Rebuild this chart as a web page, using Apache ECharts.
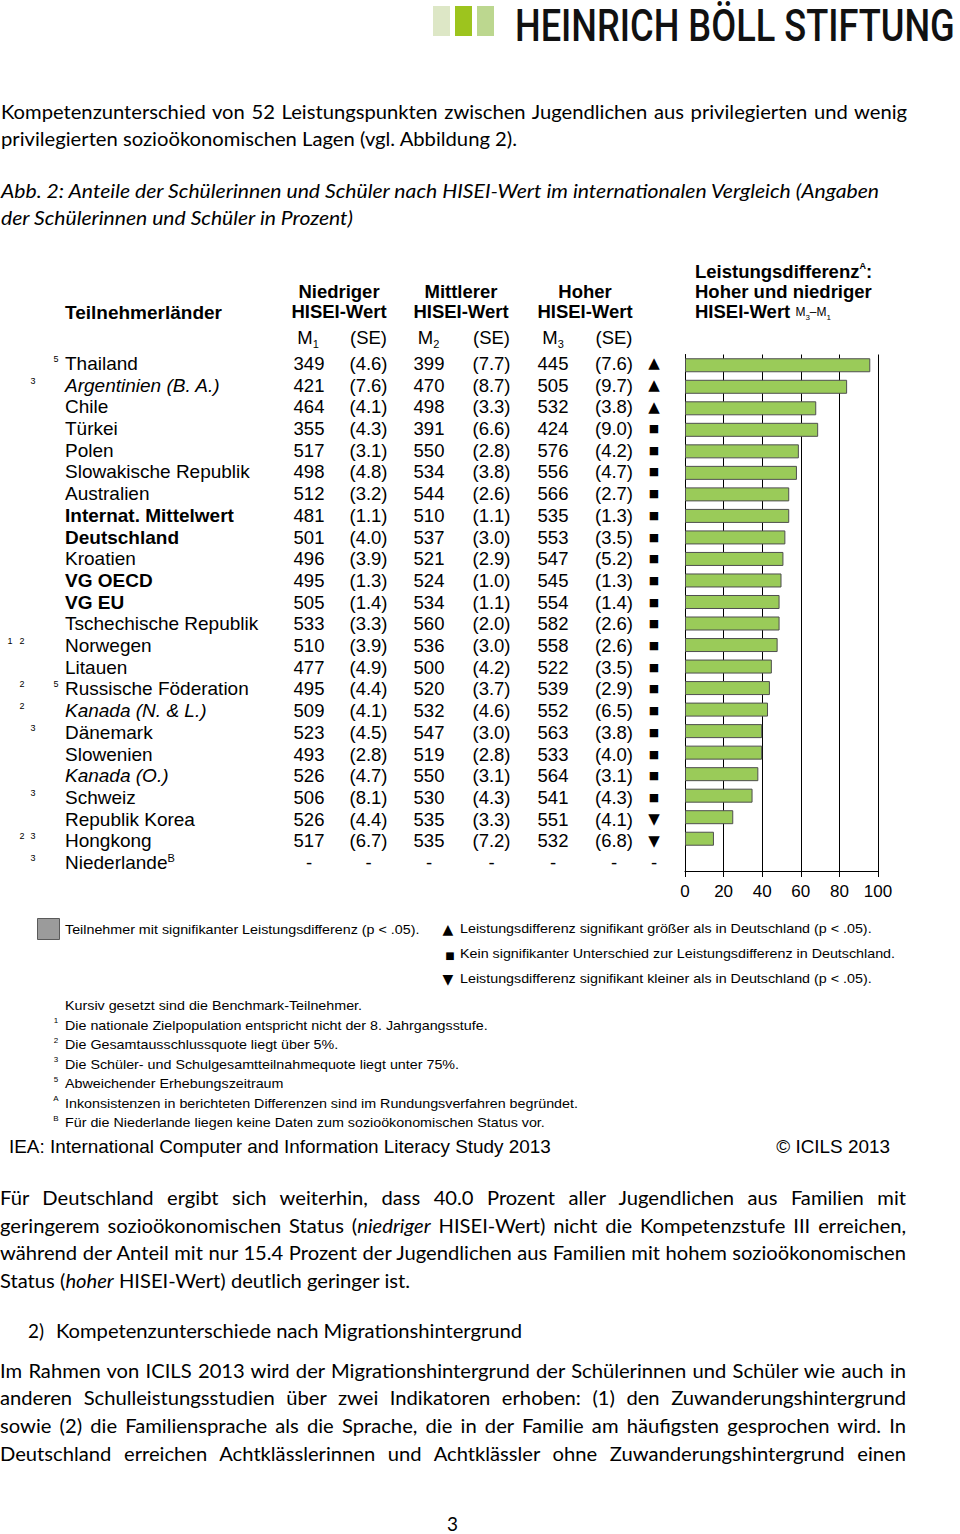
<!DOCTYPE html>
<html><head><meta charset="utf-8">
<script src="https://cdn.jsdelivr.net/npm/echarts@6/dist/echarts.min.js"></script>
<style>
html,body{margin:0;padding:0;background:#fff;}
body{width:960px;height:1534px;position:relative;overflow:hidden;}
#chart{position:absolute;left:0;top:0;width:960px;height:1534px;}
.ln{position:absolute;white-space:nowrap;font-family:Lato,'Open Sans',sans-serif;font-size:18.5px;line-height:26px;color:#000;}
.ln span{display:inline-block;transform-origin:0 50%;}
.it{font-style:italic;}
.sq{position:absolute;top:6px;height:30px;}
#logo{position:absolute;left:515px;top:0px;line-height:normal;white-space:nowrap;font-family:Roboto,'DejaVu Sans Condensed',sans-serif;font-weight:500;font-size:43.5px;color:#111;}
#logo span{display:inline-block;transform-origin:0 0;}
</style></head><body>
<div class="sq" style="left:433px;width:17px;background:#dde7c6;"></div>
<div class="sq" style="left:455px;width:17px;background:#9dc41e;"></div>
<div class="sq" style="left:477px;width:17px;background:#bcd78f;"></div>
<div id="logo"><span>HEINRICH BÖLL STIFTUNG</span></div>
<div id="chart"></div>
<div id="text"></div>
<script>
// ---------- data ----------
const countries = ['Thailand','Argentinien (B. A.)','Chile','Türkei','Polen','Slowakische Republik','Australien','Internat. Mittelwert','Deutschland','Kroatien','VG OECD','VG EU','Tschechische Republik','Norwegen','Litauen','Russische Föderation','Kanada (N. & L.)','Dänemark','Slowenien','Kanada (O.)','Schweiz','Republik Korea','Hongkong','Niederlande'];
const notes = ['5','3','','','','','','','','','','','','1 2','','2 5','2','3','','','3','','2 3','3'];
const m1  = [349,421,464,355,517,498,512,481,501,496,495,505,533,510,477,495,509,523,493,526,506,526,517,null];
const se1 = [4.6,7.6,4.1,4.3,3.1,4.8,3.2,1.1,4.0,3.9,1.3,1.4,3.3,3.9,4.9,4.4,4.1,4.5,2.8,4.7,8.1,4.4,6.7,null];
const m2  = [399,470,498,391,550,534,544,510,537,521,524,534,560,536,500,520,532,547,519,550,530,535,535,null];
const se2 = [7.7,8.7,3.3,6.6,2.8,3.8,2.6,1.1,3.0,2.9,1.0,1.1,2.0,3.0,4.2,3.7,4.6,3.0,2.8,3.1,4.3,3.3,7.2,null];
const m3  = [445,505,532,424,576,556,566,535,553,547,545,554,582,558,522,539,552,563,533,564,541,551,532,null];
const se3 = [7.6,9.7,3.8,9.0,4.2,4.7,2.7,1.3,3.5,5.2,1.3,1.4,2.6,2.6,3.5,2.9,6.5,3.8,4.0,3.1,4.3,4.1,6.8,null];
const diff = [96,84,68,69,59,58,54,54,52,51,50,49,49,48,45,44,43,40,40,38,35,25,15,null];
const sig = ['up','up','up','eq','eq','eq','eq','eq','eq','eq','eq','eq','eq','eq','eq','eq','eq','eq','eq','eq','eq','down','down',null];
const boldRows = [7,8,10,11];
const italicRows = [1,16,19];
const xTicks = {min:0, max:100, interval:20};

// ---------- page text ----------
const lines = [
  {x:1,y:112,w:906,j:1,h:'Kompetenzunterschied von 52 Leistungspunkten zwischen Jugendlichen aus privilegierten und wenig'},
  {x:1,y:139,w:516,h:'privilegierten sozioökonomischen Lagen (vgl. Abbildung 2).'},
  {x:1,y:191,w:878,it:1,h:'Abb. 2: Anteile der Schülerinnen und Schüler nach HISEI-Wert im internationalen Vergleich (Angaben'},
  {x:1,y:218,w:352,it:1,h:'der Schülerinnen und Schüler in Prozent)'},
  {x:0,y:1198,w:906,j:1,h:'Für Deutschland ergibt sich weiterhin, dass 40.0 Prozent aller Jugendlichen aus Familien mit'},
  {x:0,y:1226,w:906,j:1,h:'geringerem sozioökonomischen Status (<i>niedriger</i> HISEI-Wert) nicht die Kompetenzstufe III erreichen,'},
  {x:0,y:1253,w:906,j:1,h:'während der Anteil mit nur 15.4 Prozent der Jugendlichen aus Familien mit hohem sozioökonomischen'},
  {x:0,y:1281,w:410,h:'Status (<i>hoher</i> HISEI-Wert) deutlich geringer ist.'},
  {x:28,y:1331,w:16,h:'2)'},
  {x:56,y:1331,w:466,h:'Kompetenzunterschiede nach Migrationshintergrund'},
  {x:0,y:1371,w:906,j:1,h:'Im Rahmen von ICILS 2013 wird der Migrationshintergrund der Schülerinnen und Schüler wie auch in'},
  {x:0,y:1398,w:906,j:1,h:'anderen Schulleistungsstudien über zwei Indikatoren erhoben: (1) den Zuwanderungshintergrund'},
  {x:0,y:1426,w:906,j:1,h:'sowie (2) die Familiensprache als die Sprache, die in der Familie am häufigsten gesprochen wird. In'},
  {x:0,y:1454,w:906,j:1,h:'Deutschland erreichen Achtklässlerinnen und Achtklässler ohne Zuwanderungshintergrund einen'},
  {x:447,y:1524,w:11,h:'3'}
];
const holder = document.getElementById('text');
const els = lines.map(L => {
  const d = document.createElement('div');
  d.className = 'ln' + (L.it ? ' it' : '');
  d.style.left = L.x + 'px'; d.style.top = (L.y - 13) + 'px';
  d.innerHTML = '<span>' + L.h + '</span>';
  holder.appendChild(d);
  return d;
});
function fit() {
  const scales = [];
  lines.forEach((L, i) => {
    if (L.j) return;
    const sp = els[i].firstChild;
    const sw = sp.getBoundingClientRect().width;
    const s = L.w / sw;
    sp.style.transform = 'scaleX(' + s + ')';
    if (!L.it && L.w > 100) scales.push(s);
  });
  const s = scales.reduce((a, b) => a + b, 0) / scales.length;
  lines.forEach((L, i) => {
    if (!L.j) return;
    const sp = els[i].firstChild;
    const sw = sp.getBoundingClientRect().width;
    const n = (sp.textContent.match(/ /g) || []).length;
    sp.style.wordSpacing = ((L.w / s - sw) / n) + 'px';
    sp.style.transform = 'scaleX(' + s + ')';
  });
  // logo: shrink font so the layout width fits, then stretch vertically back (origin at top)
  const logo = document.getElementById('logo');
  const lg = logo.firstChild;
  const f0 = 43.5;
  const lw = lg.getBoundingClientRect().width;
  const f1 = f0 * 440 / lw;
  logo.style.fontSize = f1 + 'px';
  lg.style.transform = 'scaleY(' + (f0 / f1) + ')';
}
fit();

// ---------- chart ----------
const FF = "'Liberation Sans', Arial, sans-serif";
const FS = 18.5;
const FSC = 19;
const fmtNum = v => v == null ? '-' : String(v);
const fmtSE = v => v == null ? '-' : '(' + v.toFixed(1) + ')';
const symMap = {up:'{t|▲}', eq:'{q|■}', down:'{t|▼}'};
const baseRich = {
  n:{fontFamily:FF,fontSize:FS,color:'#000'},
  c:{fontFamily:FF,fontSize:FSC,color:'#000'},
  b:{fontFamily:FF,fontSize:FSC,color:'#000',fontWeight:'bold'},
  i:{fontFamily:FF,fontSize:FSC,color:'#000',fontStyle:'italic'},
  sup:{fontFamily:FF,fontSize:11,color:'#000',verticalAlign:'top',lineHeight:20},
  t:{fontFamily:"'DejaVu Sans', sans-serif",fontSize:15,color:'#000'},
  q:{fontFamily:"'DejaVu Sans', sans-serif",fontSize:11,color:'#000'},
  f:{fontFamily:FF,fontSize:9,color:'#000'}
};
function col(x, align, formatter, vAlign) {
  return {
    gridIndex:1, type:'category', inverse:true, data:countries,
    position:'left', offset:-x,
    axisLine:{show:false}, axisTick:{show:false}, splitLine:{show:false},
    axisLabel:{interval:0, margin:0, align:align, verticalAlign:vAlign || 'middle',
      fontFamily:FF, fontSize:FS, color:'#000', formatter:formatter, rich:baseRich}
  };
}
const tableAxes = [
  col(65, 'left', (v, i) => {
    const name = countries[i];
    if (name === 'Niederlande') return '{c|Niederlande}{sup|B}';
    if (boldRows.includes(i)) return '{b|' + name + '}';
    if (italicRows.includes(i)) return '{i|' + name + '}';
    return '{c|' + name + '}';
  }),
  col(309, 'center', (v, i) => '{n|' + fmtNum(m1[i]) + '}'),
  col(368.5, 'center', (v, i) => '{n|' + fmtSE(se1[i]) + '}'),
  col(429, 'center', (v, i) => '{n|' + fmtNum(m2[i]) + '}'),
  col(491.5, 'center', (v, i) => '{n|' + fmtSE(se2[i]) + '}'),
  col(553, 'center', (v, i) => '{n|' + fmtNum(m3[i]) + '}'),
  col(614, 'center', (v, i) => '{n|' + fmtSE(se3[i]) + '}'),
  col(654, 'center', (v, i) => sig[i] ? symMap[sig[i]] : '{n|-}')
];
const noteX = {'1':10, '2':22, '3':33, '5':56};
Object.keys(noteX).forEach(d => {
  tableAxes.push(col(noteX[d], 'center', (v, i) => notes[i].split(' ').includes(d) ? '{f|' + d + '}' : '', 'bottom'));
});

const txt = (x, y, text, font, align, sx) => ({
  type:'text', x:x, y:y, silent:true, scaleX:sx || 1,
  style:{text:text, font:font, fill:'#000', textAlign:align || 'left', textVerticalAlign:'middle'}
});
const HB = 'bold ' + FS + 'px ' + FF;
const HBC = 'bold ' + FSC + 'px ' + FF;
const HN = FS + 'px ' + FF;
const L13 = '13px ' + FF;
const SX = 1.1;
const graphics = [
  txt(65, 312, 'Teilnehmerländer', HBC),
  txt(339, 291, 'Niedriger', HB, 'center'), txt(339, 311, 'HISEI-Wert', HB, 'center'),
  txt(461, 291, 'Mittlerer', HB, 'center'), txt(461, 311, 'HISEI-Wert', HB, 'center'),
  txt(585, 291, 'Hoher', HB, 'center'), txt(585, 311, 'HISEI-Wert', HB, 'center'),
  {type:'text', x:695, y:271, silent:true, style:{text:'{b|Leistungsdifferenz}{s|A}{b|:}', textVerticalAlign:'middle',
    rich:{b:{fontFamily:FF,fontSize:FS,fontWeight:'bold',fill:'#000',lineHeight:20}, s:{fontFamily:FF,fontSize:9,fontWeight:'bold',fill:'#000',verticalAlign:'top',lineHeight:20}}}},
  txt(695, 291, 'Hoher und niedriger', HB),
  {type:'text', x:695, y:311, silent:true, style:{text:'{b|HISEI-Wert }{m|M}{s|3}{m|–M}{s|1}', textVerticalAlign:'middle',
    rich:{b:{fontFamily:FF,fontSize:FS,fontWeight:'bold',fill:'#000',lineHeight:20}, m:{fontFamily:FF,fontSize:12,fill:'#000',verticalAlign:'bottom',lineHeight:20, padding:[0,0,3,0]}, s:{fontFamily:FF,fontSize:8,fill:'#000',verticalAlign:'bottom',lineHeight:20}}}}
];
[[308,'1'],[428.5,'2'],[553,'3']].forEach(([x, s]) => {
  graphics.push({type:'text', x:x, y:337, silent:true, style:{text:'{m|M}{s|' + s + '}', textAlign:'center', textVerticalAlign:'middle',
    rich:{m:{fontFamily:FF,fontSize:FS,fill:'#000',lineHeight:20,verticalAlign:'bottom'}, s:{fontFamily:FF,fontSize:11,fill:'#000',lineHeight:20,verticalAlign:'bottom', padding:[0,0,-2,0]}}}});
});
[368.5, 491.5, 614].forEach(x => graphics.push(txt(x, 337, '(SE)', HN, 'center')));
// legend
graphics.push({type:'rect', silent:true, shape:{x:37.5, y:918.5, width:22, height:21}, style:{fill:'#9b9b9b', stroke:'#5a5a5a', lineWidth:1}});
graphics.push(txt(65, 930, 'Teilnehmer mit signifikanter Leistungsdifferenz (p < .05).', L13, 'left', SX));
graphics.push(txt(448, 929, '▲', "14px 'DejaVu Sans'", 'center'));
graphics.push(txt(460, 929, 'Leistungsdifferenz signifikant größer als in Deutschland (p < .05).', L13, 'left', SX));
graphics.push(txt(450, 955, '■', "10px 'DejaVu Sans'", 'center'));
graphics.push(txt(460, 954, 'Kein signifikanter Unterschied zur Leistungsdifferenz in Deutschland.', L13, 'left', SX));
graphics.push(txt(448, 979, '▼', "14px 'DejaVu Sans'", 'center'));
graphics.push(txt(460, 979, 'Leistungsdifferenz signifikant kleiner als in Deutschland (p < .05).', L13, 'left', SX));
// footnotes
const foot = [
  ['', 'Kursiv gesetzt sind die Benchmark-Teilnehmer.'],
  ['1', 'Die nationale Zielpopulation entspricht nicht der 8. Jahrgangsstufe.'],
  ['2', 'Die Gesamtausschlussquote liegt über 5%.'],
  ['3', 'Die Schüler- und Schulgesamtteilnahmequote liegt unter 75%.'],
  ['5', 'Abweichender Erhebungszeitraum'],
  ['A', 'Inkonsistenzen in berichteten Differenzen sind im Rundungsverfahren begründet.'],
  ['B', 'Für die Niederlande liegen keine Daten zum sozioökonomischen Status vor.']
];
const footY = [1006, 1025.5, 1045, 1064.5, 1084, 1103.5, 1123];
foot.forEach(([m, t], k) => {
  if (m) graphics.push(txt(56, footY[k] - 5, m, '8px ' + FF, 'center'));
  graphics.push(txt(65, footY[k], t, L13, 'left', SX));
});
graphics.push(txt(9, 1147, 'IEA: International Computer and Information Literacy Study 2013', '17.5px ' + FF, 'left', 1.08));
graphics.push(txt(890, 1147, '© ICILS 2013', '17.5px ' + FF, 'right', 1.08));

const chart = echarts.init(document.getElementById('chart'), null, {renderer:'svg'});
chart.setOption({
  animation:false,
  backgroundColor:'transparent',
  grid:[
    {left:685, top:354.5, width:193, height:516.5},
    {left:0, top:352.6, width:960, height:520.8}
  ],
  xAxis:[
    {gridIndex:0, type:'value', min:xTicks.min, max:xTicks.max, interval:xTicks.interval,
     axisLine:{show:true, lineStyle:{color:'#000', width:1}},
     axisTick:{show:true, length:6, lineStyle:{color:'#000', width:1}},
     splitLine:{show:true, lineStyle:{color:'#000', width:1}},
     axisLabel:{margin:12, fontFamily:FF, fontSize:17, color:'#000'}},
    {gridIndex:1, type:'value', show:false}
  ],
  yAxis:[
    {gridIndex:0, type:'category', inverse:true, data:countries,
     axisLine:{show:true, lineStyle:{color:'#000', width:1}}, axisTick:{show:false}, axisLabel:{show:false}, splitLine:{show:false}}
  ].concat(tableAxes),
  series:[{
    type:'bar', xAxisIndex:0, yAxisIndex:0, data:diff, barWidth:14, silent:true,
    itemStyle:{color:'#9acb59', borderColor:'#4f4f4f', borderWidth:1}
  }],
  graphic:graphics
});
</script>
</body></html>
